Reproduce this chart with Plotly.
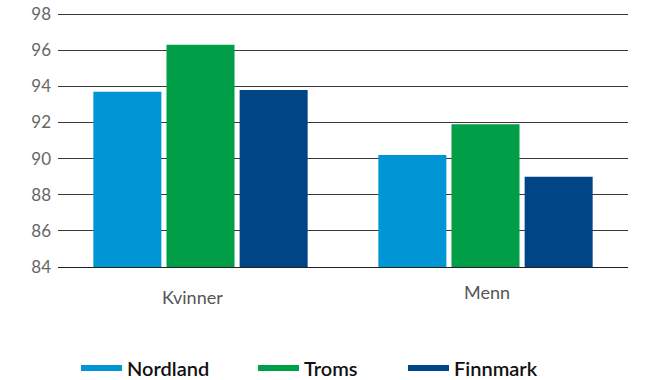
import plotly.graph_objects as go

categories = ["Kvinner", "Menn"]
series_names = ["Nordland", "Troms", "Finnmark"]
nordland = [93.7, 90.2]
troms = [96.3, 91.9]
finnmark = [93.8, 89.0]
colors = ["#0096D6", "#009E47", "#004687"]
y_ticks = [84, 86, 88, 90, 92, 94, 96, 98]

fig = go.Figure()
for name, vals, col in zip(series_names, [nordland, troms, finnmark], colors):
    fig.add_trace(go.Bar(x=categories, y=vals, name=name, marker=dict(color=col, line=dict(width=0)),
                         showlegend=False))

legend_keys = ["legend", "legend2", "legend3"]
legend_x = [76, 253, 403]
for name, col, lk in zip(series_names, colors, legend_keys):
    fig.add_trace(go.Scatter(x=[None], y=[None], mode="lines", name=name, legend=lk,
                             line=dict(color=col, width=6), showlegend=True, hoverinfo="skip"))

leg_common = dict(orientation="h", xref="container", yref="container", xanchor="left",
                  yanchor="middle", y=(380 - 368) / 380, itemwidth=41,
                  font=dict(size=20, color="#111111", family="Lato", weight=600),
                  bgcolor="rgba(0,0,0,0)")
layout_legends = {lk: dict(x=lx / 652, **leg_common) for lk, lx in zip(legend_keys, legend_x)}

# category labels (slightly different offsets, as in the reference)
label_shift = {"Kvinner": (-8, -30), "Menn": (1, -25)}
annotations = [dict(x=c, y=0, xref="x", yref="paper", text=c, showarrow=False,
                    yanchor="middle", xanchor="center",
                    xshift=label_shift[c][0], yshift=label_shift[c][1],
                    font=dict(size=18, color="#555555", family="Lato"))
               for c in categories]

fig.update_layout(
    width=652, height=380,
    margin=dict(l=58, r=24, t=5, b=113, autoexpand=False),
    paper_bgcolor="white", plot_bgcolor="white",
    barmode="group", bargap=0.23, bargroupgap=0.07,
    font=dict(family="Lato", color="#666666"),
    xaxis=dict(showgrid=False, showline=True, linecolor="#222222", linewidth=1, ticks="",
               automargin=False, showticklabels=False),
    yaxis=dict(range=[84, 98.5], tickvals=y_ticks, showgrid=True, gridcolor="#3a3a3a", gridwidth=1,
               zeroline=False, showline=False, ticks="", ticklabelstandoff=6, automargin=False,
               tickfont=dict(size=17, color="#666666")),
    annotations=annotations,
    **layout_legends,
)
fig.write_html("out.html", post_script="document.body.style.margin='0';",
               config={"displayModeBar": False})
